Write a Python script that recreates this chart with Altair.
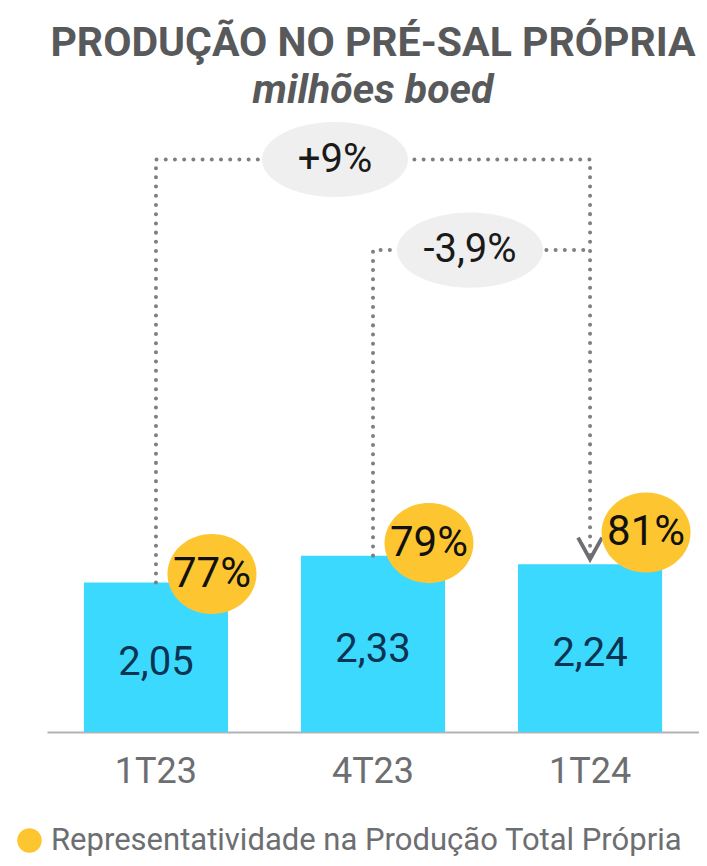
import altair as alt
import pandas as pd

# ---------------- data ----------------
periods = ["1T23", "4T23", "1T24"]
values = [2.05, 2.33, 2.24]
value_labels = ["2,05", "2,33", "2,24"]
shares = ["77%", "79%", "81%"]
share_levels = [2.14, 2.46, 2.57]
legend_label = "Representatividade na Produção Total Própria"

change_labels = ["+9%", "-3,9%"]
change_from = ["1T23", "4T23"]
change_to = "1T24"
change_levels = [6.44, 5.50]
arrow_tip = 2.29

Y_MIN, Y_MAX = 0.5, 6.85

FONT = "Roboto"
BAR = "#3cd9fe"
YEL = "#fdc52f"
GRAY_DOT = "#7d7f82"

bars_df = pd.DataFrame({
    "period": periods,
    "value": values,
    "label": value_labels,
    "share": shares,
    "share_y": share_levels,
    "series": [legend_label] * len(periods),
})

rows = []
for i, (src, lvl) in enumerate(zip(change_from, change_levels)):
    start = values[periods.index(src)]
    pts = [(src, start), (src, lvl), (change_to, lvl)]
    if i == 0:
        pts.append((change_to, arrow_tip))
    for j, (p, v) in enumerate(pts):
        rows.append({"path": i, "order": j, "period": p, "y": v})
conn_df = pd.DataFrame(rows)

# change badges are anchored on the middle category and shifted sideways
chg_df = pd.DataFrame({
    "label": change_labels,
    "level": change_levels,
    "period": ["4T23", "4T23"],
    "idx": [0, 1],
})
arrow_df = pd.DataFrame({"period": [change_to], "y": [arrow_tip]})

# ---------------- encodings ----------------
XS = alt.Scale(domain=periods, paddingInner=0.336, paddingOuter=0.17)
XA = alt.Axis(
    title=None, labelAngle=0, ticks=False, labelFont=FONT, labelFontSize=36,
    labelColor="#6d6e71", labelPadding=22, domainColor="#b1b3b6", domainWidth=2,
    grid=False,
)

def X():
    return alt.X("period:N", scale=XS, axis=XA)

YS = alt.Scale(domain=[Y_MIN, Y_MAX], zero=False, nice=False)

def Y(field):
    return alt.Y(field, scale=YS, axis=None)

bars = alt.Chart(bars_df).mark_bar(color=BAR).encode(
    x=X(), y=Y("value:Q"), y2=alt.datum(Y_MIN)
)

conn = alt.Chart(conn_df).mark_line(
    color=GRAY_DOT, strokeWidth=4, strokeDash=[0.01, 9.2], strokeCap="round",
    strokeJoin="round",
).encode(x=X(), y=Y("y:Q"), detail="path:N", order="order:Q")

chevron = alt.Chart(arrow_df).mark_point(
    shape="M-1,-0.9 L0,0.9 L1,-0.9", size=576, filled=False, color="#6d6e71",
    strokeWidth=3.8, yOffset=-11, opacity=1,
).encode(x=X(), y=Y("y:Q"))

ELL = "M-1,0 A1,0.514 0 1,0 1,0 A1,0.514 0 1,0 -1,0 Z"
ell_layers = []
for idx, off in [(0, -38), (1, 97)]:
    base = alt.Chart(chg_df).transform_filter(alt.datum.idx == idx)
    e = base.mark_point(
        shape=ELL, size=146 * 146, filled=True, color="#efefef", opacity=1,
        strokeWidth=0, xOffset=off,
    ).encode(x=X(), y=Y("level:Q"))
    t = base.mark_text(
        font=FONT, fontSize=40, color="#1a1a1a", baseline="middle", align="center",
        xOffset=off,
    ).encode(x=X(), y=Y("level:Q"), text="label:N")
    ell_layers += [e, t]

CIRC = "M-1,0 A1,0.9 0 1,0 1,0 A1,0.9 0 1,0 -1,0 Z"
circles = alt.Chart(bars_df).mark_point(
    shape=CIRC, size=89 * 89, filled=True, opacity=1, strokeWidth=0, xOffset=56,
).encode(
    x=X(), y=Y("share_y:Q"),
    color=alt.Color(
        "series:N",
        scale=alt.Scale(range=[YEL]),
        legend=alt.Legend(
            title=None, orient="none", legendX=-33, legendY=705, symbolType="circle",
            symbolSize=600, labelFont=FONT, labelFontSize=31, labelColor="#6d6e71",
            labelLimit=900, labelOffset=6, symbolStrokeWidth=0, padding=0,
        ),
    ),
)
share_txt = alt.Chart(bars_df).mark_text(
    font=FONT, fontSize=42, color="#111111", baseline="middle", align="center",
    xOffset=56,
).encode(x=X(), y=Y("share_y:Q"), text="share:N")

val_txt = alt.Chart(bars_df).transform_calculate(
    mid=f"(datum.value + {Y_MIN}) / 2"
).mark_text(
    font=FONT, fontSize=40, color="#0b3352", baseline="middle", align="center", dy=6,
).encode(x=X(), y=Y("mid:Q"), text="label:N")

chart = alt.layer(
    bars, conn, chevron, *ell_layers, circles, share_txt, val_txt
).properties(
    width=652,
    height=612,
    autosize=alt.AutoSizeParams(type="none"),
    padding={"left": 39, "top": 112, "right": 0, "bottom": 126},
    title=alt.TitleParams(
        text="PRODUÇÃO NO PRÉ-SAL PRÓPRIA",
        subtitle="milhões boed",
        font=FONT, fontSize=41, fontWeight="bold", color="#58595b",
        subtitleFont=FONT, subtitleFontSize=41, subtitleFontWeight="bold",
        subtitleFontStyle="italic", subtitleColor="#58595b", subtitlePadding=6,
        anchor="middle", offset=8,
    ),
).configure_view(stroke=None)

chart.save("out.html", embed_options={"renderer": "svg", "actions": False})
